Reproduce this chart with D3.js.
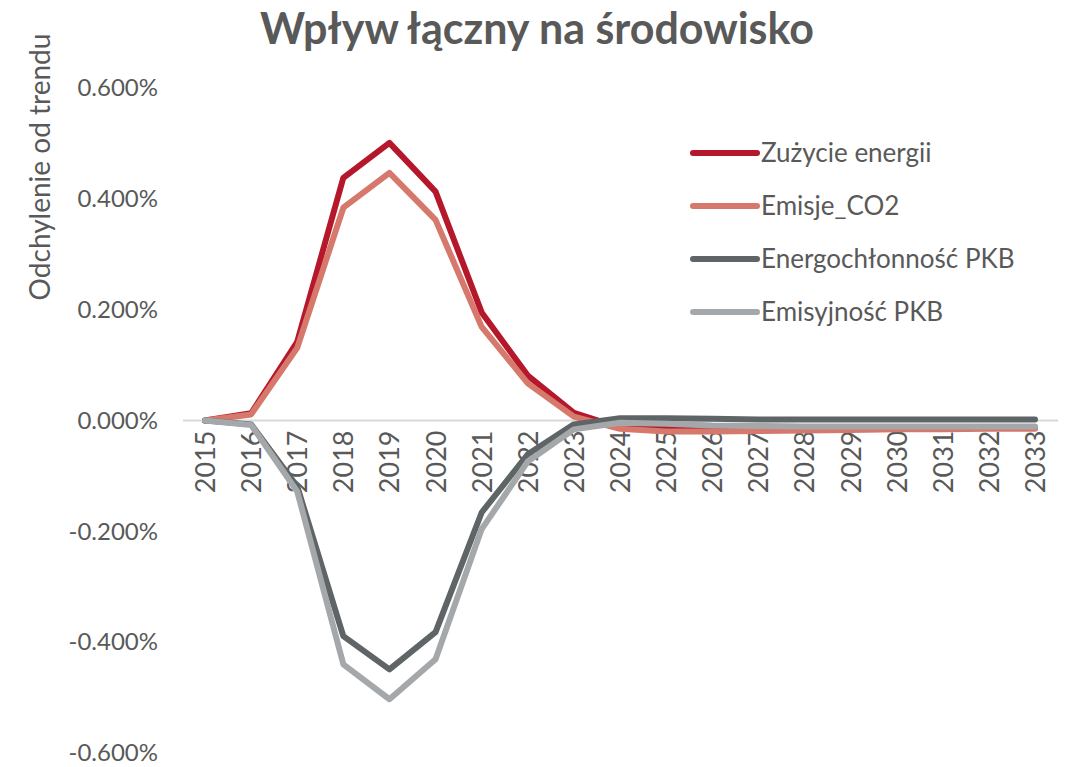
<!DOCTYPE html>
<html>
<head>
<meta charset="utf-8">
<script src="https://cdn.jsdelivr.net/npm/d3@7"></script>
<style>
  body { margin: 0; background: #fff; }
  svg { display: block; font-family: Lato, "Open Sans", sans-serif; }
</style>
</head>
<body>
<div id="chart"></div>
<script>
// Years on the x axis
const years = [2015, 2016, 2017, 2018, 2019, 2020, 2021, 2022, 2023, 2024,
  2025, 2026, 2027, 2028, 2029, 2030, 2031, 2032, 2033];

// Deviation from trend, in percent
const zuzycieEnergii = [0, 0.013, 0.142, 0.438, 0.501, 0.413, 0.195, 0.081, 0.014, -0.013,
  -0.015, -0.016, -0.016, -0.015, -0.015, -0.014, -0.014, -0.013, -0.013];
const emisjeCO2 = [0, 0.011, 0.131, 0.384, 0.447, 0.362, 0.169, 0.067, 0.007, -0.015,
  -0.020, -0.020, -0.019, -0.018, -0.017, -0.016, -0.016, -0.015, -0.015];
const energochlonnosc = [0, -0.007, -0.119, -0.389, -0.449, -0.382, -0.166, -0.061, -0.007, 0.004,
  0.004, 0.003, 0.002, 0.002, 0.002, 0.002, 0.002, 0.002, 0.002];
const emisyjnosc = [0, -0.008, -0.128, -0.440, -0.503, -0.431, -0.196, -0.074, -0.016, -0.004,
  -0.006, -0.009, -0.010, -0.011, -0.011, -0.011, -0.011, -0.011, -0.011];

const seriesNames = ['Zużycie energii', 'Emisje_CO2', 'Energochłonność PKB', 'Emisyjność PKB'];
const seriesColors = ['#b5182b', '#d6786c', '#5f6567', '#a5a8ab'];
const seriesValues = [zuzycieEnergii, emisjeCO2, energochlonnosc, emisyjnosc];

const yTicks = [0.6, 0.4, 0.2, 0, -0.2, -0.4, -0.6];

const width = 1066, height = 767;
const textColor = '#595959';

const svg = d3.select('#chart').append('svg')
  .attr('width', width)
  .attr('height', height);

// Scales
const x = d3.scalePoint().domain(years).range([205, 1035]);
const y = d3.scaleLinear().domain([-0.6, 0.6]).range([753, 88]);

// Title
svg.append('text')
  .attr('x', 537)
  .attr('y', 44)
  .attr('text-anchor', 'middle')
  .style('font-size', '43px')
  .style('font-weight', 'bold')
  .attr('fill', textColor)
  .text('Wpływ łączny na środowisko');

// Y axis label
svg.append('text')
  .attr('transform', 'translate(50, 167) rotate(-90)')
  .attr('text-anchor', 'middle')
  .style('font-size', '28px')
  .attr('fill', textColor)
  .text('Odchylenie od trendu');

// Y axis tick labels
const yAxis = d3.axisLeft(y)
  .tickValues(yTicks)
  .tickSize(0)
  .tickPadding(0)
  .tickFormat(d => d3.format('.3f')(d).replace('−', '-') + '%');

svg.append('g')
  .attr('transform', 'translate(158, 0)')
  .call(yAxis)
  .call(g => g.select('.domain').remove())
  .selectAll('text')
  .attr('fill', textColor)
  .attr('font-family', 'Lato, "Open Sans", sans-serif')
  .style('font-size', '24px');

// Zero line
svg.append('line')
  .attr('x1', 183)
  .attr('x2', 1058)
  .attr('y1', y(0))
  .attr('y2', y(0))
  .attr('stroke', '#d9d9d9')
  .attr('stroke-width', 2);

// X axis labels (rotated)
const xAxis = d3.axisBottom(x).tickSize(0).tickPadding(0);
svg.append('g')
  .attr('transform', `translate(0, ${y(0)})`)
  .call(xAxis)
  .call(g => g.select('.domain').remove())
  .selectAll('text')
  .attr('fill', textColor)
  .attr('font-family', 'Lato, "Open Sans", sans-serif')
  .style('font-size', '27px')
  .attr('text-anchor', 'end')
  .attr('dy', '0.35em')
  .attr('transform', 'translate(0, 10) rotate(-90)')
  .attr('y', 0)
  .attr('x', 0);

// Lines
const line = d3.line()
  .x((d, i) => x(years[i]))
  .y(d => y(d));

svg.append('g')
  .selectAll('path')
  .data(seriesValues)
  .join('path')
  .attr('fill', 'none')
  .attr('stroke', (d, i) => seriesColors[i])
  .attr('stroke-width', 6)
  .attr('stroke-linejoin', 'round')
  .attr('stroke-linecap', 'round')
  .attr('d', line);

// Legend
const legend = svg.append('g')
  .selectAll('g')
  .data(seriesNames)
  .join('g')
  .attr('transform', (d, i) => `translate(693, ${153 + i * 53})`);

legend.append('line')
  .attr('x1', 0)
  .attr('x2', 64)
  .attr('stroke', (d, i) => seriesColors[i])
  .attr('stroke-width', 6)
  .attr('stroke-linecap', 'round');

legend.append('text')
  .attr('x', 68)
  .attr('dy', '0.35em')
  .style('font-size', '26px')
  .attr('fill', textColor)
  .text(d => d);
</script>
</body>
</html>
